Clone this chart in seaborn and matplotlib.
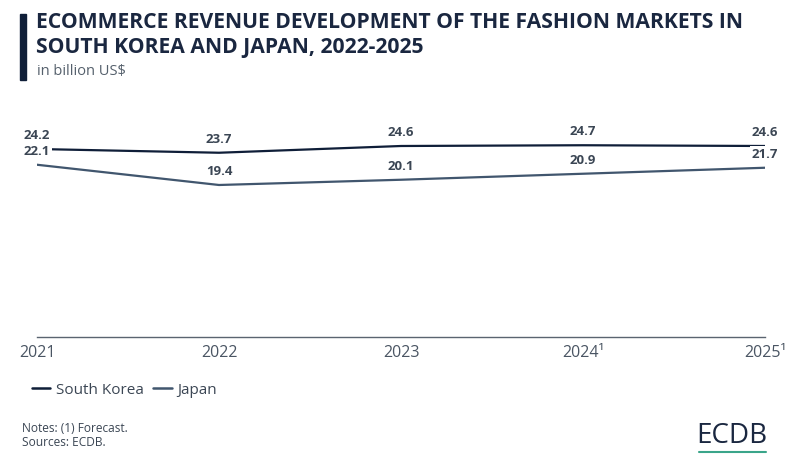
import matplotlib.pyplot as plt
import seaborn as sns
import pandas as pd
from matplotlib.lines import Line2D

years = ["2021", "2022", "2023", "2024¹", "2025¹"]
south_korea = [24.2, 23.7, 24.6, 24.7, 24.6]
japan = [22.1, 19.4, 20.1, 20.9, 21.7]

navy = "#0f1e38"
slate = "#41566e"
label_col = "#3b4654"

sns.set_theme(style="white")
plt.rcParams['font.family'] = ['Open Sans', 'DejaVu Sans']

df = pd.DataFrame({
    "x": list(range(len(years))) * 2,
    "value": south_korea + japan,
    "country": ["South Korea"] * len(years) + ["Japan"] * len(years),
})

fig = plt.figure(figsize=(8.02, 4.55), dpi=100)
ax = fig.add_axes([37 / 802, 1 - 337 / 455, (765 - 37) / 802, (337 - 110) / 455])

sns.lineplot(data=df, x="x", y="value", hue="country",
             palette={"South Korea": navy, "Japan": slate},
             linewidth=1.6, legend=False, ax=ax)

for series in (south_korea, japan):
    for i, v in enumerate(series):
        ax.annotate(f"{v}", (i, v), xytext=(0, 5), textcoords="offset points",
                    ha="center", va="bottom", fontsize=9.5, fontweight="bold",
                    color=label_col, zorder=5,
                    bbox=dict(boxstyle="square,pad=0.1", fc="white", ec="none"))

ax.set_xlim(0, len(years) - 1)
ax.set_ylim(-0.87, 29.4)
ax.set_xticks(range(len(years)))
ax.set_xticklabels(years)
ax.set_yticks([])
ax.set_xlabel("")
ax.set_ylabel("")
for s in ["top", "left", "right"]:
    ax.spines[s].set_visible(False)
ax.spines["bottom"].set_color("#5a6470")
ax.spines["bottom"].set_linewidth(1.0)
ax.tick_params(axis="x", length=0, pad=6, labelsize=11.5, labelcolor="#4a5563")
ax.patch.set_visible(False)

# title block
fig.patches.append(plt.Rectangle((20 / 802, 1 - 80 / 455), 6 / 802, 66 / 455,
                                 transform=fig.transFigure, color=navy))
fig.text(36 / 802, 1 - 22 / 455, "ECOMMERCE REVENUE DEVELOPMENT OF THE FASHION MARKETS IN",
         fontsize=15.2, fontweight="bold", color="#1a2740", va="center")
fig.text(36 / 802, 1 - 47 / 455, "SOUTH KOREA AND JAPAN, 2022-2025",
         fontsize=15.2, fontweight="bold", color="#1a2740", va="center")
fig.text(37 / 802, 1 - 72 / 455, "in billion US$", fontsize=10.5, color="#55606c", va="center")

handles = [Line2D([], [], color=navy, lw=1.8), Line2D([], [], color=slate, lw=1.8)]
fig.legend(handles, ["South Korea", "Japan"], loc="center left",
           bbox_to_anchor=(18 / 802, 1 - 390 / 455), ncol=2, frameon=False,
           fontsize=11, handlelength=1.2, handletextpad=0.4, columnspacing=0.6,
           labelcolor="#3b4654")

fig.text(22 / 802, 1 - 428 / 455, "Notes: (1) Forecast.", fontsize=8.6, color="#3b4654", va="center")
fig.text(22 / 802, 1 - 443 / 455, "Sources: ECDB.", fontsize=8.6, color="#3b4654", va="center")
fig.text(767 / 802, 1 - 436 / 455, "ECDB", fontsize=20, color="#1a2740", ha="right", va="center")
fig.lines.append(Line2D([699 / 802, 766 / 802], [1 - 452 / 455, 1 - 452 / 455],
                        transform=fig.transFigure, color="#3aa58a", lw=1.5))

fig.savefig("out.png", dpi=100)
